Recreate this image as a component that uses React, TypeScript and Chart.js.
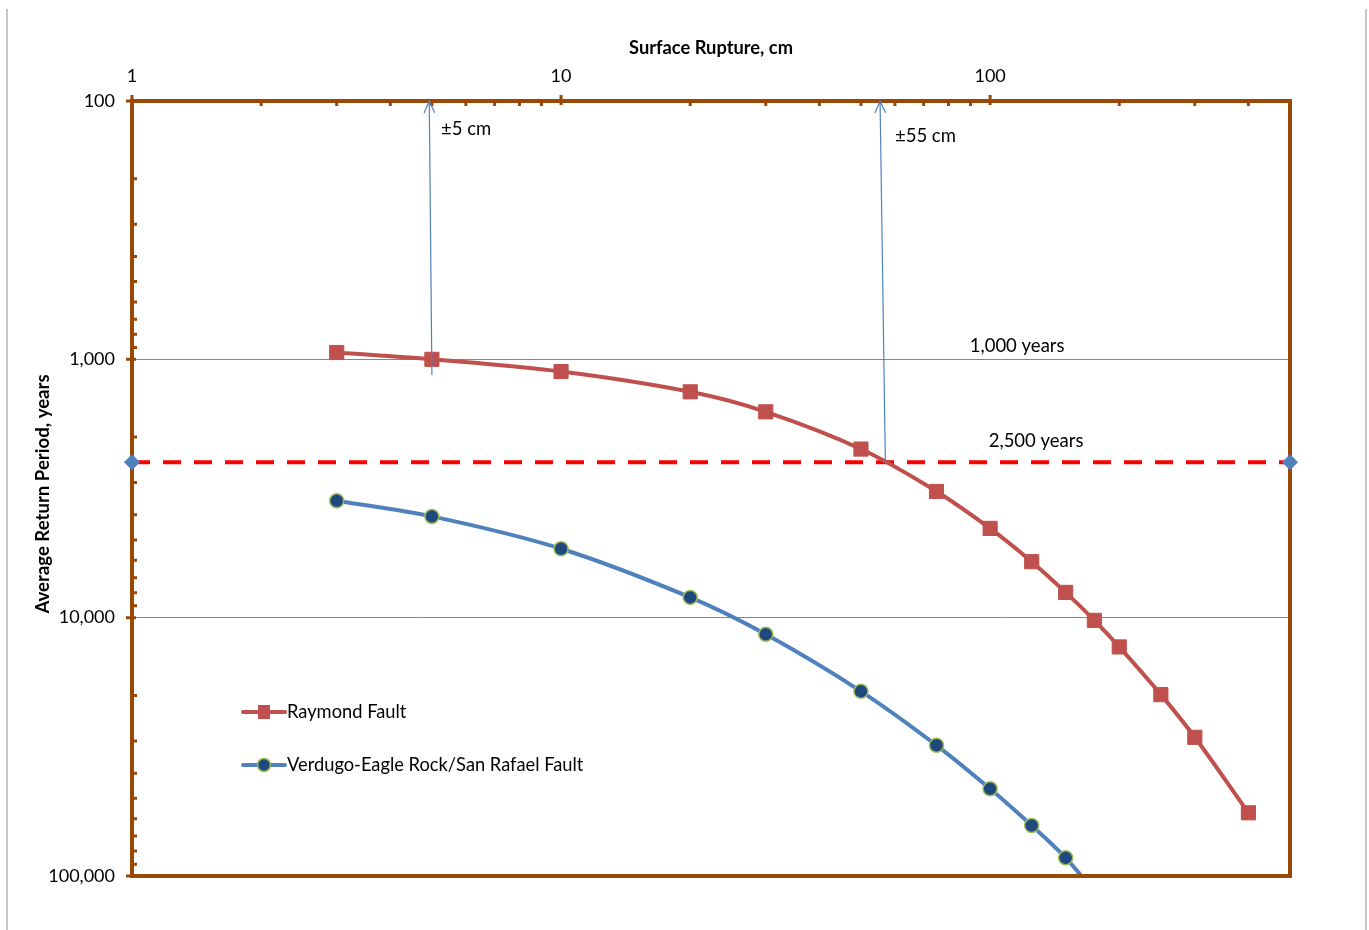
import React, { useEffect, useRef } from 'react';
import { Chart, registerables } from 'chart.js';

Chart.register(...registerables);

// ---------- data ----------
const raymondX = [3, 5, 10, 20, 30, 50, 75, 100, 125, 150, 175, 200, 250, 300, 400];
const raymondY = [941, 1000, 1115, 1336, 1597, 2225, 3246, 4513, 6073, 7983, 10240, 12980, 19860, 29050, 56940];
const verdugoX = [3, 5, 10, 20, 30, 50, 75, 100, 125, 150, 175];
const verdugoY = [3527, 4055, 5410, 8346, 11600, 19280, 31190, 45980, 63770, 85050, 115000];
const thresholdX = [1, 500];
const thresholdY = [2500, 2500];

const xTickValues = [1, 10, 100];
const yTickValues = [100, 1000, 10000, 100000];
const xMinorTicks = [2, 3, 4, 5, 6, 7, 8, 9, 20, 30, 40, 50, 60, 70, 80, 90, 200, 300, 400];
const yMinorTicks = [200, 300, 400, 500, 600, 700, 800, 900, 2000, 3000, 4000, 5000, 6000, 7000, 8000, 9000, 20000, 30000, 40000, 50000, 60000, 70000, 80000, 90000];

const arrowBaseX = [5, 57];
const arrowBaseY = [1150, 2500];
const arrowTipX = [4.93, 55.4];
const arrowTipY = [100, 100];
const arrowLabels = ['±5 cm', '±55 cm'];
const arrowLabelX = [5.25, 60];
const arrowLabelY = [128, 137];

const refLabels = ['1,000 years', '2,500 years'];
const refLabelX = [115.6, 128];
const refLabelY = [887, 2065];

const seriesNames = ['Raymond Fault', 'Verdugo-Eagle Rock/San Rafael Fault'];
const xTitle = 'Surface Rupture, cm';
const yTitle = 'Average Return Period, years';

// ---------- styles ----------
const FONT = 'Lato, "Liberation Sans", sans-serif';
const AXIS_COLOR = '#9A4806';
const RED = '#C0504D';
const BLUE = '#4F81BD';
const NAVY = '#1F497D';
const GREEN = '#9BBB59';

const toPoints = (xs: number[], ys: number[]) => xs.map((x, i) => ({ x, y: ys[i] }));

const decorPlugin = {
  id: 'decor',
  beforeDraw(chart: any) {
    const ctx = chart.ctx;
    ctx.save();
    ctx.strokeStyle = '#B4B4B4';
    ctx.lineWidth = 1.5;
    ctx.beginPath();
    ctx.moveTo(7, 9);
    ctx.lineTo(7, chart.height);
    ctx.moveTo(1366, 9);
    ctx.lineTo(1366, chart.height);
    ctx.stroke();
    ctx.restore();
  },
  beforeDatasetsDraw(chart: any) {
    const ctx = chart.ctx;
    const { left, right, top, bottom } = chart.chartArea;
    const xs = chart.scales.x;
    const ys = chart.scales.y;
    ctx.save();
    ctx.strokeStyle = AXIS_COLOR;
    ctx.lineWidth = 4;
    ctx.lineJoin = 'miter';
    ctx.strokeRect(left, top, right - left, bottom - top);
    // ticks
    ctx.lineWidth = 3;
    ctx.beginPath();
    xTickValues.forEach((v) => {
      const px = xs.getPixelForValue(v);
      ctx.moveTo(px, top - 6);
      ctx.lineTo(px, top + 4);
    });
    xMinorTicks.forEach((v) => {
      const px = xs.getPixelForValue(v);
      ctx.moveTo(px, top);
      ctx.lineTo(px, top + 5);
    });
    yTickValues.forEach((v) => {
      const py = ys.getPixelForValue(v);
      ctx.moveTo(left - 6, py);
      ctx.lineTo(left + 4, py);
    });
    yMinorTicks.forEach((v) => {
      const py = ys.getPixelForValue(v);
      ctx.moveTo(left, py);
      ctx.lineTo(left + 5, py);
    });
    ctx.stroke();
    ctx.restore();
  },
  afterDatasetsDraw(chart: any) {
    const ctx = chart.ctx;
    const xs = chart.scales.x;
    const ys = chart.scales.y;
    ctx.save();
    // arrows
    ctx.strokeStyle = BLUE;
    ctx.lineWidth = 1.2;
    arrowBaseX.forEach((bx, i) => {
      const x0 = xs.getPixelForValue(bx);
      const y0 = ys.getPixelForValue(arrowBaseY[i]);
      const x1 = xs.getPixelForValue(arrowTipX[i]);
      const y1 = ys.getPixelForValue(arrowTipY[i]);
      const ang = Math.atan2(y1 - y0, x1 - x0);
      const len = 13;
      const spread = 0.42;
      ctx.beginPath();
      ctx.moveTo(x0, y0);
      ctx.lineTo(x1, y1);
      ctx.moveTo(x1 - len * Math.cos(ang - spread), y1 - len * Math.sin(ang - spread));
      ctx.lineTo(x1, y1);
      ctx.lineTo(x1 - len * Math.cos(ang + spread), y1 - len * Math.sin(ang + spread));
      ctx.stroke();
    });
    ctx.fillStyle = '#000';
    ctx.font = `18.5px ${FONT}`;
    ctx.textBaseline = 'middle';
    ctx.textAlign = 'left';
    arrowLabels.forEach((t, i) => {
      ctx.fillText(t, xs.getPixelForValue(arrowLabelX[i]), ys.getPixelForValue(arrowLabelY[i]));
    });
    ctx.textAlign = 'center';
    refLabels.forEach((t, i) => {
      ctx.fillText(t, xs.getPixelForValue(refLabelX[i]), ys.getPixelForValue(refLabelY[i]));
    });
    ctx.restore();
  },
  afterDraw(chart: any) {
    const ctx = chart.ctx;
    const { left, right, top, bottom } = chart.chartArea;
    ctx.save();
    // titles
    ctx.fillStyle = '#000';
    ctx.font = `bold 18.3px ${FONT}`;
    ctx.textAlign = 'center';
    ctx.textBaseline = 'middle';
    ctx.fillText(xTitle, 711, 48);
    ctx.font = `bold 18.6px ${FONT}`;
    ctx.translate(43, 494);
    ctx.rotate(-Math.PI / 2);
    ctx.fillText(yTitle, 0, 0);
    ctx.restore();

    // legend
    ctx.save();
    const lx0 = 243;
    const lx1 = 285;
    const rows = [712, 765];
    ctx.lineCap = 'round';
    ctx.lineWidth = 4;
    ctx.strokeStyle = RED;
    ctx.beginPath();
    ctx.moveTo(lx0, rows[0]);
    ctx.lineTo(lx1, rows[0]);
    ctx.stroke();
    ctx.fillStyle = RED;
    ctx.fillRect(264 - 6, rows[0] - 7, 12, 14);
    ctx.strokeStyle = BLUE;
    ctx.beginPath();
    ctx.moveTo(lx0, rows[1]);
    ctx.lineTo(lx1, rows[1]);
    ctx.stroke();
    ctx.beginPath();
    ctx.arc(264, rows[1], 6.5, 0, Math.PI * 2);
    ctx.fillStyle = NAVY;
    ctx.fill();
    ctx.lineWidth = 1.5;
    ctx.strokeStyle = GREEN;
    ctx.stroke();
    ctx.fillStyle = '#000';
    ctx.font = `18.3px ${FONT}`;
    ctx.textAlign = 'left';
    ctx.textBaseline = 'middle';
    ctx.fillText(seriesNames[0], 287, rows[0]);
    ctx.fillText(seriesNames[1], 287, rows[1]);
    ctx.restore();
  },
};

export default function App() {
  const ref = useRef<HTMLCanvasElement | null>(null);

  useEffect(() => {
    if (!ref.current) return;
    const chart = new Chart(ref.current, {
      type: 'line',
      data: {
        datasets: [
          {
            label: seriesNames[0],
            data: toPoints(raymondX, raymondY),
            borderColor: RED,
            backgroundColor: RED,
            borderWidth: 4,
            tension: 0.35,
            pointStyle: 'rect',
            pointRadius: 10,
            pointBackgroundColor: RED,
            pointBorderColor: RED,
            pointBorderWidth: 1,
            clip: 0,
          } as any,
          {
            label: seriesNames[1],
            data: toPoints(verdugoX, verdugoY),
            borderColor: BLUE,
            backgroundColor: NAVY,
            borderWidth: 4,
            tension: 0.35,
            pointStyle: 'circle',
            pointRadius: 7,
            pointBackgroundColor: NAVY,
            pointBorderColor: GREEN,
            pointBorderWidth: 1.5,
            clip: { left: 0, right: 0, top: 0, bottom: -2 },
          } as any,
          {
            label: '2,500 years',
            data: toPoints(thresholdX, thresholdY),
            borderColor: '#FF0000',
            borderWidth: 4,
            borderDash: [18, 13],
            pointStyle: 'rectRot',
            pointRadius: 7.5,
            pointBackgroundColor: BLUE,
            pointBorderColor: BLUE,
            pointBorderWidth: 1,
            clip: false,
          } as any,
        ],
      },
      options: {
        animation: false,
        responsive: false,
        maintainAspectRatio: false,
        layout: { padding: { left: 0, top: 0, right: 79, bottom: 54 } },
        plugins: { legend: { display: false }, tooltip: { enabled: false } },
        events: [],
        scales: {
          x: {
            type: 'logarithmic',
            position: 'top',
            min: 1,
            max: 500,
            grid: { display: false, drawTicks: false },
            border: { display: false },
            afterBuildTicks: (s: any) => {
              s.ticks = xTickValues.map((v) => ({ value: v }));
            },
            afterFit: (s: any) => {
              s.height = 101;
            },
            ticks: {
              autoSkip: false,
              maxRotation: 0,
              padding: 14,
              color: '#000',
              font: { family: FONT, size: 18 },
              callback: (v: any) => String(v),
            },
          },
          y: {
            type: 'logarithmic',
            reverse: true,
            min: 100,
            max: 100000,
            grid: {
              drawTicks: false,
              color: '#868686',
              lineWidth: 1,
            },
            border: { display: false },
            afterBuildTicks: (s: any) => {
              s.ticks = yTickValues.map((v) => ({ value: v }));
            },
            afterFit: (s: any) => {
              s.width = 132;
            },
            ticks: {
              autoSkip: false,
              padding: 17,
              color: '#000',
              font: { family: FONT, size: 18 },
              callback: (v: any) => Number(v).toLocaleString('en-US'),
            },
          },
        },
      } as any,
      plugins: [decorPlugin],
    });
    return () => chart.destroy();
  }, []);

  return (
    <div style={{ position: 'absolute', left: 0, top: 0, width: 1369, height: 930, background: '#fff' }}>
      <canvas ref={ref} width={1369} height={930} style={{ display: 'block', width: 1369, height: 930 }} />
    </div>
  );
}
